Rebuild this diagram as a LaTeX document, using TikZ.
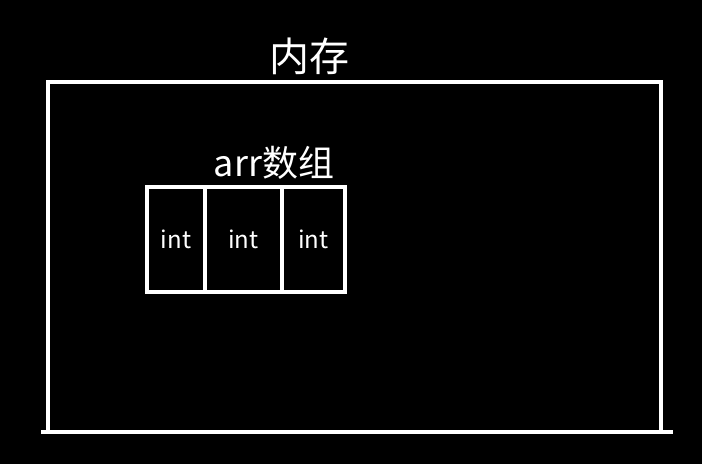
\documentclass[tikz,border=0pt]{standalone}
\usepackage{fontspec}
\setmainfont{DejaVu Sans}
\newfontfamily\cjk{Noto Sans CJK SC}
\usetikzlibrary{positioning}

\tikzset{
  chalk/.style={draw=white, line width=3pt},
  cellbox/.style={draw=white, line width=3pt, outer sep=0pt, inner sep=0pt,
    minimum height=78.75pt, text=white, font=\cjk\fontsize{18}{21}\selectfont},
  chalktext/.style={text=white, inner sep=0pt},
}

\begin{document}
\begin{tikzpicture}[x=0.75pt, y=-0.75pt]
\fill[black] (0,0) rectangle (702,464);
\useasboundingbox (0,0) rectangle (702,464);
% memory frame
\coordinate (memTL) at (48,82);
\coordinate (memTR) at (661,82);
\coordinate (memBL) at (41,432);
\coordinate (memBR) at (673,432);
\draw[chalk] (memBL -| memTL) -- (memTL) -- (memTR) -- (memBR -| memTR);
\draw[chalk] (memBL) -- (memBR);
\node[chalktext, font=\cjk\fontsize{30}{36}\selectfont] (memlabel) at (309,56) {内存};
% array cells
\node[cellbox, minimum width=43.5pt, anchor=north west] (cellA) at (147,187) {int};
\node[cellbox, minimum width=57.75pt, right=0pt of cellA] (cellB) {int};
\node[cellbox, minimum width=47.25pt, right=0pt of cellB] (cellC) {int};
\node[chalktext, font=\cjk\fontsize{27}{32}\selectfont] (arrlabel) at (274,163) {arr数组};
\end{tikzpicture}
\end{document}
